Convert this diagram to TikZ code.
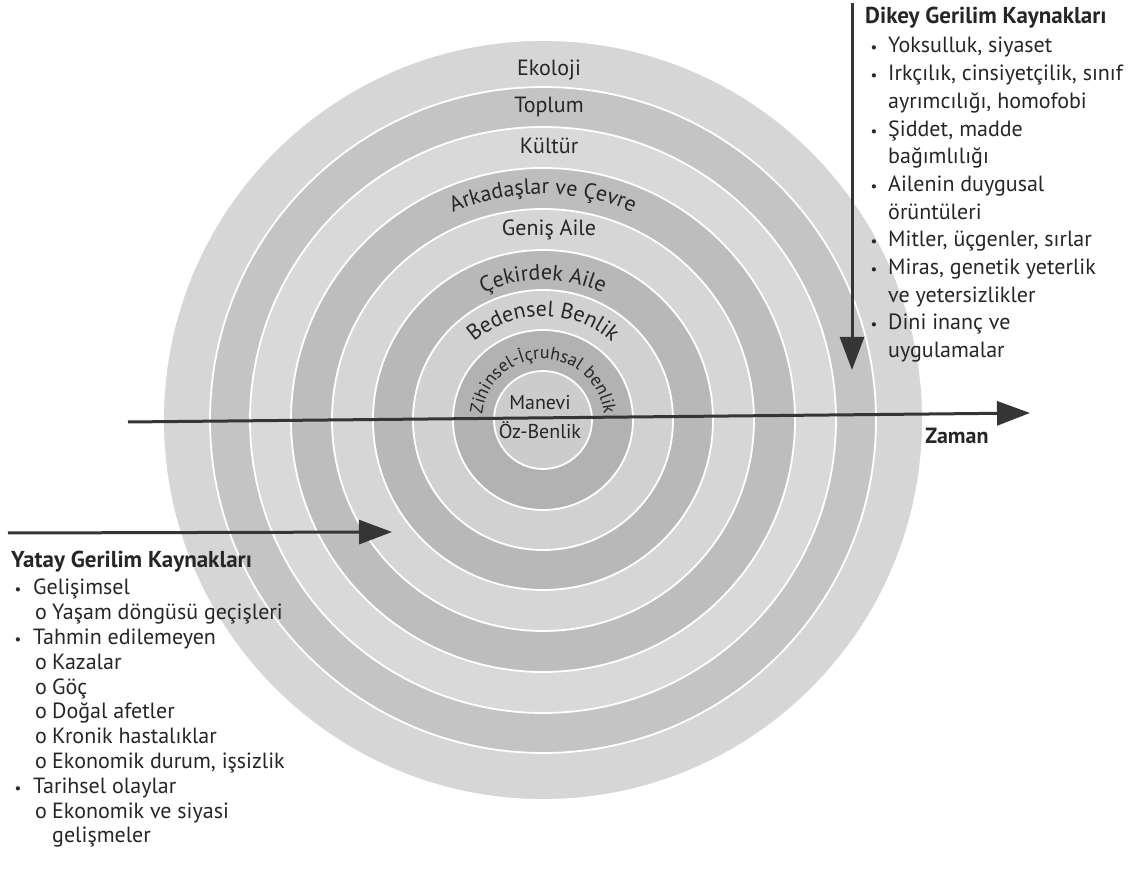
\documentclass[tikz,border=0pt]{standalone}
\usepackage{fontspec}
\setmainfont{PT Sans}
\usetikzlibrary{arrows.meta, decorations.text}

\definecolor{txt}{HTML}{262626}
\definecolor{arr}{HTML}{353535}

\tikzset{
  ring/.style={draw=white, line width=1.8pt},
  lbl/.style={text=txt, font=\fontsize{22}{22}\selectfont, inner sep=0pt, anchor=base},
  item/.style={text=txt, font=\fontsize{22}{22}\selectfont, inner sep=0pt, anchor=base west},
  head/.style={item, font=\fontsize{23}{23}\selectfont\bfseries},
  bul/.style={text=txt, font=\fontsize{15}{15}\selectfont, inner sep=0pt, anchor=base},
  stress/.style={draw=arr, line width=3pt, -{Triangle[length=33pt, width=24pt]}},
  arclbl/.style={decorate, decoration={text along path, text align=center, text={#1}}}
}

\begin{document}
\begin{tikzpicture}[x=1pt, y=1pt]
  \fill[white] (0,0) rectangle (1133,886);
  \useasboundingbox (0,0) rectangle (1133,886);

  % rings, outside in
  \coordinate (c) at (543,466);
  \foreach \r/\g in {380/16, 333/23, 293/15, 252/26, 211/16, 170/28, 130/18, 90/30, 49/20}
    \draw[ring, fill=black!\g] (c) circle[radius=\r pt];

  % straight labels
  \node[lbl] (ekoloji) at (549,810) {Ekoloji};
  \node[lbl] (toplum) at (549,773) {Toplum};
  \node[lbl] (kultur) at (549,732) {Kültür};
  \node[lbl] (genis) at (549,650) {Geniş Aile};
  \node[lbl, font=\fontsize{20}{20}\selectfont] (manevi) at (540,476) {Manevi};
  \node[lbl, font=\fontsize{20}{20}\selectfont] (oz) at (540,447) {Öz-Benlik};

  % curved labels
  \path[arclbl={|\fontsize{22}{22}\selectfont\color{txt}|Arkadaşlar ve Çevre}]
    ([shift={(c)}]178:226pt) arc[start angle=178, end angle=2, radius=226pt];
  \path[arclbl={|\fontsize{22}{22}\selectfont\color{txt}|Çekirdek Aile}]
    ([shift={(c)}]178:140pt) arc[start angle=178, end angle=2, radius=140pt];
  \path[arclbl={|\fontsize{22}{22}\selectfont\color{txt}|Bedensel Benlik}]
    ([shift={(c)}]178:104pt) arc[start angle=178, end angle=2, radius=104pt];
  \path[arclbl={|\fontsize{18}{18}\selectfont\color{txt}|Zihinsel-İçruhsal benlik}]
    ([shift={(c)}]180:61pt) arc[start angle=180, end angle=0, radius=61pt];

  % arrows
  \coordinate (zL) at (128,464);
  \coordinate (zR) at (1030,473);
  \coordinate (vT) at (852,883);
  \coordinate (vB) at (852,516);
  \coordinate (yL) at (8,353);
  \coordinate (yR) at (392,354);
  \draw[stress] (zL) -- (zR);
  \draw[stress] (vT) -- (vB);
  \draw[stress] (yL) -- (yR);
  \node[lbl, font=\fontsize{22}{22}\selectfont\bfseries] (zaman) at (957,442) {Zaman};

  % vertical sources
  \node[head] (dkhead) at (865,862) {Dikey Gerilim Kaynakları};
  \foreach \n/\txt in {1/{Yoksulluk, siyaset}, 2/{Irkçılık, cinsiyetçilik, sınıf},
      3/{ayrımcılığı, homofobi}, 4/{Şiddet, madde}, 5/{bağımlılığı},
      6/{Ailenin duygusal}, 7/{örüntüleri}, 8/{Mitler, üçgenler, sırlar},
      9/{Miras, genetik yeterlik}, 10/{ve yetersizlikler}, 11/{Dini inanç ve},
      12/{uygulamalar}}
    \node[item] (dk\n) at (888,{833-27.7*(\n-1)}) {\txt};
  \foreach \n in {1,2,4,6,8,9,11}
    \node[bul] (dkb\n) at (874,{833-27.7*(\n-1)}) {•};

  % horizontal sources
  \node[head] (ythead) at (11,318) {Yatay Gerilim Kaynakları};
  \foreach \n/\x/\txt in {1/33/Gelişimsel, 2/52/{Yaşam döngüsü geçişleri},
      3/33/{Tahmin edilemeyen}, 4/52/Kazalar, 5/52/Göç, 6/52/{Doğal afetler},
      7/52/{Kronik hastalıklar}, 8/52/{Ekonomik durum, işsizlik},
      9/33/{Tarihsel olaylar}, 10/52/{Ekonomik ve siyasi}, 11/52/gelişmeler}
    \node[item] (yt\n) at (\x,{291-24.8*(\n-1)}) {\txt};
  \foreach \n in {1,3,9}
    \node[bul] (ytb\n) at (18,{291-24.8*(\n-1)}) {•};
  \foreach \n in {2,4,5,6,7,8,10}
    \node[item] (yto\n) at (35,{291-24.8*(\n-1)}) {o};
\end{tikzpicture}
\end{document}
